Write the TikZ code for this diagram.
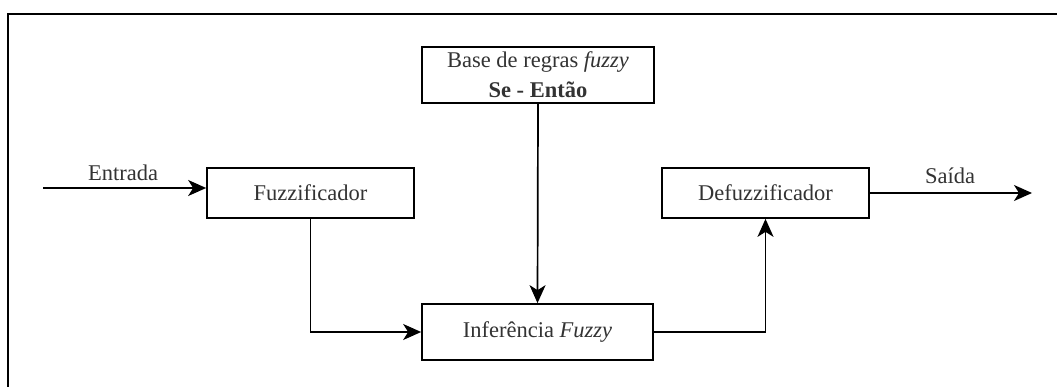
\documentclass[tikz,border=0pt]{standalone}
\usepackage{fontspec}
\setmainfont{Liberation Serif}
\usetikzlibrary{arrows.meta}
\begin{document}
\begin{tikzpicture}[x=1pt,y=-1pt,
  block/.style={draw, line width=1.7pt, inner sep=0pt, align=center,
    font=\fontsize{22.5}{30}\selectfont, text=black!80},
  lbl/.style={font=\fontsize{22.5}{27}\selectfont, text=black!80},
  arr/.style={line width=1.7pt, -{Stealth[length=18pt,width=16pt,inset=5pt]}},
  frame/.style={line width=1.8pt}]
\useasboundingbox (0,0) rectangle (1057,387);

% outer frame (top and left edges)
\coordinate (ftl) at (8,14);
\coordinate (ftr) at (1057,14);
\coordinate (fbl) at (8,387);
\draw[frame] (ftr) -- (ftl) -- (fbl);

% blocks of the fuzzy system
\node[block, minimum width=232pt, minimum height=56pt] (base) at (538,75)
  {Base de regras \textit{fuzzy}\\\textbf{Se - Então}};
\node[block, minimum width=207pt, minimum height=50pt] (fuzz) at (310.5,193) {Fuzzificador};
\node[block, minimum width=231pt, minimum height=56pt] (infer) at (537.5,332) {Inferência \textit{Fuzzy}};
\node[block, minimum width=207pt, minimum height=50pt] (defuzz) at (765.5,193) {Defuzzificador};

% input and output
\coordinate (in) at (43,188);
\coordinate (out) at (1032,193);
\draw[arr] (in) -- (in -| fuzz.west);
\node[lbl] (lin) at (123,173) {Entrada};
\draw[arr] (defuzz.east) -- (out);
\node[lbl] (lout) at (950,176) {Saída};

% internal flow
\draw[arr] (fuzz.south) |- (infer.west);
\draw[arr] (base.south) -- (infer.north);
\draw[arr] (infer.east) -| (defuzz.south);
\end{tikzpicture}
\end{document}
